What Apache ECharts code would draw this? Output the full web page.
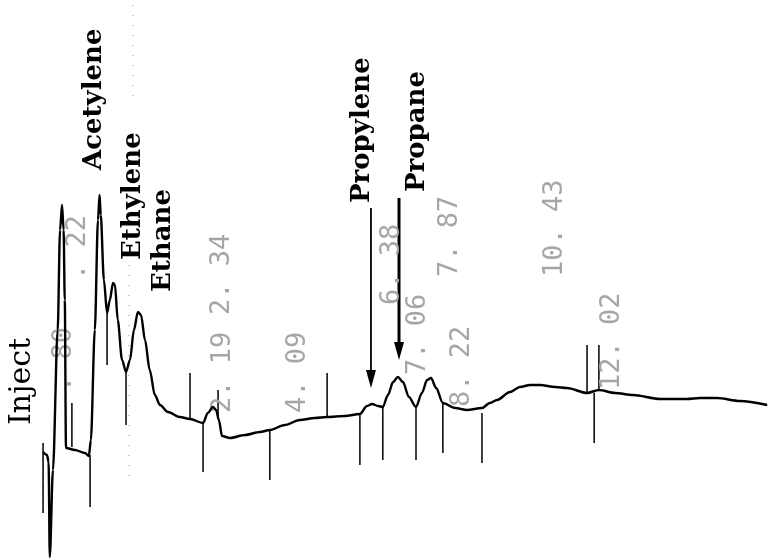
<!DOCTYPE html>
<html>
<head>
<meta charset="utf-8">
<script src="https://cdn.jsdelivr.net/npm/echarts@6/dist/echarts.min.js"></script>
<style>
  html, body { margin: 0; padding: 0; background: #fff; }
  #chart { width: 768px; height: 560px; }
</style>
</head>
<body>
<div id="chart"></div>
<script>
// detector trace: [retention time (min), response]
const trace = [
  [-1.92, -2], [-1.82, -5], [-1.78, -12], [-1.75, -107], [-1.67, -20], [-1.55, 120],
  [-1.49, 220], [-1.44, 245], [-1.40, 220], [-1.37, 150], [-1.34, 2], [-1.11, 0],
  [-0.86, -3], [-0.76, -6], [-0.71, 10], [-0.61, 120], [-0.53, 230], [-0.49, 255],
  [-0.46, 235], [-0.38, 170], [-0.30, 137], [-0.23, 150], [-0.15, 167], [-0.10, 165],
  [-0.03, 130], [0.08, 90], [0.18, 78], [0.28, 90], [0.38, 120], [0.48, 138],
  [0.56, 135], [0.66, 110], [0.78, 80], [0.91, 55], [1.04, 45], [1.24, 38],
  [1.54, 33], [1.80, 31], [2.13, 27], [2.25, 37], [2.38, 43], [2.46, 40],
  [2.53, 30], [2.61, 14], [2.81, 12], [3.19, 15], [3.57, 18], [3.82, 20],
  [4.20, 25], [4.58, 30], [4.96, 32], [5.27, 33], [5.72, 34], [6.10, 36],
  [6.28, 44], [6.41, 46], [6.56, 44], [6.68, 43], [6.81, 55], [6.94, 68],
  [7.06, 73], [7.19, 68], [7.34, 53], [7.52, 43], [7.67, 57], [7.80, 70],
  [7.90, 72], [8.03, 62], [8.20, 47], [8.51, 42], [8.81, 40], [9.19, 42],
  [9.39, 47], [9.57, 50], [9.90, 58], [10.15, 63], [10.41, 65], [10.66, 65],
  [11.04, 63], [11.34, 62], [11.85, 57], [12.15, 60], [12.56, 57], [13.01, 55],
  [13.70, 51], [14.38, 51], [14.71, 52], [15.14, 52], [15.72, 49], [16.41, 45]
];

// integrator event marks: [time, from, to]
const marks = [
  [-1.92, 7, -63], [-1.19, 47, 3], [-0.73, -5, -57], [-0.30, 137, 85],
  [0.18, 78, 25], [1.80, 77, 31], [2.13, 27, -22], [2.51, 60, 32],
  [3.82, 20, -30], [5.27, 77, 33], [6.10, 35, -15], [6.68, 43, -10],
  [7.52, 43, -10], [8.20, 47, -3], [9.19, 37, -13], [11.85, 105, 57],
  [12.15, 105, 60], [12.03, 57, 7]
];

// annotation arrows: [time, from, to]
const arrows = [
  [6.38, 242, 62],
  [7.09, 252, 90]
];

// compound names: [text, time, bottom]
const compounds = [
  ['Acetylene', -0.62, 280],
  ['Ethylene', 0.36, 190],
  ['Ethane', 1.12, 158],
  ['Propylene', 6.15, 247],
  ['Propane', 7.55, 258]
];

// printed retention times: [text, time, bottom]
const rtLabels = [
  ['. 80', -1.39, 58],
  ['. 22', -1.04, 170],
  ['2. 19', 2.63, 37],
  ['2. 34', 2.60, 135],
  ['4. 09', 4.53, 37],
  ['6. 38', 6.91, 145],
  ['7. 06', 7.57, 75],
  ['7. 87', 8.38, 173],
  ['8. 22', 8.68, 43],
  ['10. 43', 11.04, 173],
  ['12. 02', 12.48, 60]
];

const injectLabel = ['Inject', -2.46, 25];

// faint scan dots: [time, from, to]
const dots = [
  [0.25, 185, -30],
  [0.35, 445, 350]
];

const chart = echarts.init(document.getElementById('chart'));

function vline(color, width, dash) {
  return function (params, api) {
    const a = api.coord([api.value(0), api.value(1)]);
    const b = api.coord([api.value(0), api.value(2)]);
    return {
      type: 'line',
      shape: { x1: a[0], y1: a[1], x2: b[0], y2: b[1] },
      style: { stroke: color, lineWidth: width, lineDash: dash || null }
    };
  };
}

function textSeries(list, font, color) {
  return {
    type: 'custom',
    data: list.map(d => [d[1], d[2]]),
    renderItem: function (params, api) {
      const p = api.coord([api.value(0), api.value(1)]);
      return {
        type: 'text',
        x: p[0],
        y: p[1],
        rotation: Math.PI / 2,
        style: {
          text: list[params.dataIndex][0],
          font: font,
          fill: color,
          align: 'left',
          verticalAlign: 'middle'
        }
      };
    }
  };
}

chart.setOption({
  animation: false,
  backgroundColor: '#fff',
  grid: { left: 0, right: 0, top: 0, bottom: 0 },
  xAxis: { type: 'value', min: -3.01, max: 16.43, show: false },
  yAxis: { type: 'value', min: -110, max: 450, show: false },
  series: [
    {
      type: 'custom',
      data: dots,
      renderItem: vline('#bbb', 1.5, [1, 9])
    },
    {
      type: 'line',
      data: trace,
      symbol: 'none',
      smooth: 0.3,
      smoothMonotone: 'x',
      lineStyle: { color: '#000', width: 2.4 }
    },
    {
      type: 'custom',
      data: marks,
      renderItem: vline('#000', 1.5)
    },
    {
      type: 'custom',
      data: arrows,
      renderItem: function (params, api) {
        const a = api.coord([api.value(0), api.value(1)]);
        const b = api.coord([api.value(0), api.value(2)]);
        const w = params.dataIndex === 1 ? 3 : 1.8;
        return {
          type: 'group',
          children: [
            {
              type: 'line',
              shape: { x1: a[0], y1: a[1], x2: b[0], y2: b[1] - 12 },
              style: { stroke: '#000', lineWidth: w }
            },
            {
              type: 'polygon',
              shape: { points: [[b[0] - 5, b[1] - 18], [b[0] + 5, b[1] - 18], [b[0], b[1]]] },
              style: { fill: '#000' }
            }
          ]
        };
      }
    },
    textSeries(compounds, 'bold 26px "DejaVu Serif"', '#000'),
    textSeries(rtLabels, '27px "DejaVu Sans Mono"', '#a6a6a6'),
    textSeries([injectLabel], '30px "DejaVu Serif"', '#000')
  ]
});
</script>
</body>
</html>
